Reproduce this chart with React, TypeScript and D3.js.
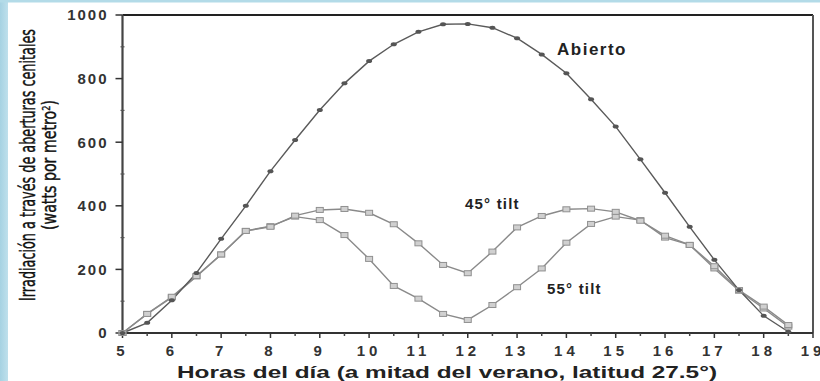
import React from "react";
import * as d3 from "d3";

const hours = [5, 5.5, 6, 6.5, 7, 7.5, 8, 8.5, 9, 9.5, 10, 10.5, 11, 11.5, 12, 12.5, 13, 13.5, 14, 14.5, 15, 15.5, 16, 16.5, 17, 17.5, 18, 18.5];
const abierto = [0, 32, 103, 189, 296, 400, 509, 607, 701, 785, 855, 908, 947, 971, 972, 960, 927, 876, 817, 735, 649, 546, 441, 334, 230, 135, 54, 4];
const tilt45 = [0, 60, 114, 179, 247, 321, 334, 369, 387, 390, 378, 342, 282, 214, 188, 256, 332, 368, 389, 391, 381, 353, 306, 277, 210, 135, 83, 25];
const tilt55 = [0, 60, 112, 178, 247, 321, 336, 366, 355, 308, 233, 148, 108, 60, 41, 88, 144, 203, 284, 343, 366, 355, 300, 277, 203, 133, 77, 20];
const xTicks = [5, 6, 7, 8, 9, 10, 11, 12, 13, 14, 15, 16, 17, 18, 19];
const yTicks = [0, 200, 400, 600, 800, 1000];

export default function App() {
  const W = 820, H = 381;
  const x = d3.scaleLinear().domain([5, 19]).range([122.5, 813]);
  const y = d3.scaleLinear().domain([0, 1000]).range([333, 15]);
  const line = (vals: number[]) =>
    d3.line<number>().x((_, i) => x(hours[i])).y((d) => y(d))(vals) || "";
  const halfTicks = d3.range(5.5, 19, 1);
  const minorY = d3.range(100, 1000, 200);
  const lblFont = "'Liberation Sans', Arial, sans-serif";
  const narrow = "'Liberation Sans Narrow', 'Arial Narrow', 'DejaVu Sans Condensed', sans-serif";
  return (
    <svg width={W} height={H} style={{ position: "absolute", left: 0, top: 0 }} xmlns="http://www.w3.org/2000/svg">
      <defs>
        <linearGradient id="band" x1="0" x2="1" y1="0" y2="0">
          <stop offset="0" stopColor="#a6d2e2" />
          <stop offset="1" stopColor="#bfe0ec" />
        </linearGradient>
      </defs>
      <rect x={0} y={0} width={W} height={H} fill="#ffffff" />
      <rect x={0} y={0} width={8} height={H} fill="url(#band)" />
      <rect x={0} y={0} width={W} height={2.5} fill="#b3dbe8" />

      {/* frame */}
      <line x1={x(5)} x2={x(19)} y1={y(1000)} y2={y(1000)} stroke="#222" strokeWidth={2} />
      <line x1={x(19)} x2={x(19)} y1={y(1000)} y2={y(0)} stroke="#555" strokeWidth={2} />
      <line x1={x(5)} x2={x(5)} y1={y(1000)} y2={y(0)} stroke="#444" strokeWidth={2.2} />
      <line x1={x(5)} x2={x(19)} y1={y(0)} y2={y(0)} stroke="#333" strokeWidth={2} />

      {/* y ticks */}
      {yTicks.map((t) => (
        <g key={"y" + t}>
          <line x1={x(5) - 7} x2={x(5)} y1={y(t)} y2={y(t)} stroke="#333" strokeWidth={1.5} />
          <text x={x(5) - 14} y={y(t)} dy="0.36em" textAnchor="end" fontFamily={lblFont} fontWeight="bold" fontSize={15} letterSpacing={2} fill="#333">
            {t}
          </text>
        </g>
      ))}
      {minorY.map((t) => (
        <line key={"ym" + t} x1={x(5) - 2} x2={x(5) + 2} y1={y(t)} y2={y(t)} stroke="#555" strokeWidth={1.2} />
      ))}

      {/* x ticks */}
      {xTicks.map((t) => (
        <g key={"x" + t}>
          <line x1={x(t)} x2={x(t)} y1={y(0)} y2={y(0) + 5} stroke="#333" strokeWidth={1.5} />
          <text x={x(t)} y={356} textAnchor="middle" fontFamily={lblFont} fontWeight="bold" fontSize={15} letterSpacing={4} fill="#333">
            {t}
          </text>
        </g>
      ))}
      {halfTicks.map((t) => (
        <line key={"xm" + t} x1={x(t)} x2={x(t)} y1={y(0)} y2={y(0) + 3} stroke="#444" strokeWidth={1.5} />
      ))}

      {/* series */}
      <path d={line(tilt55)} fill="none" stroke="#8a8a8a" strokeWidth={1.4} />
      <path d={line(tilt45)} fill="none" stroke="#8a8a8a" strokeWidth={1.4} />
      <path d={line(abierto)} fill="none" stroke="#5a5a5a" strokeWidth={1.4} />
      {tilt55.map((v, i) => (
        <rect key={"s55" + i} x={x(hours[i]) - 3.5} y={y(v) - 2.5} width={7} height={5} fill="#d0d0d0" stroke="#909090" strokeWidth={1} />
      ))}
      {tilt45.map((v, i) => (
        <rect key={"s45" + i} x={x(hours[i]) - 3.5} y={y(v) - 2.5} width={7} height={5} fill="#d0d0d0" stroke="#909090" strokeWidth={1} />
      ))}
      {abierto.map((v, i) => (
        <ellipse key={"a" + i} cx={x(hours[i])} cy={y(v)} rx={3} ry={2} fill="#555" />
      ))}

      {/* annotations */}
      <text x={557} y={55} fontFamily={lblFont} fontWeight="bold" fontSize={17} letterSpacing={1.5} fill="#222">Abierto</text>
      <text x={465} y={209} fontFamily={lblFont} fontWeight="bold" fontSize={15} letterSpacing={1.2} fill="#222">45° tilt</text>
      <text x={547} y={294} fontFamily={lblFont} fontWeight="bold" fontSize={15} letterSpacing={1.2} fill="#222">55° tilt</text>

      {/* axis titles */}
      <text x={447} y={378} textAnchor="middle" fontFamily={lblFont} fontWeight="bold" fontSize={17} textLength={540} lengthAdjust="spacingAndGlyphs" fill="#222">
        Horas del día (a mitad del verano, latitud 27.5°)
      </text>
      <text transform="translate(35,165) rotate(-90)" textAnchor="middle" fontFamily={narrow} fontSize={22} textLength={272} lengthAdjust="spacingAndGlyphs" fill="#111" stroke="#111" strokeWidth={0.4}>
        Irradiación a través de aberturas cenitales
      </text>
      <text transform="translate(56,165) rotate(-90)" textAnchor="middle" fontFamily={narrow} fontSize={19} textLength={130} lengthAdjust="spacingAndGlyphs" fill="#111" stroke="#111" strokeWidth={0.4}>
        (watts por metro<tspan dy={-6} fontSize={11}>2</tspan><tspan dy={6}>)</tspan>
      </text>
    </svg>
  );
}
